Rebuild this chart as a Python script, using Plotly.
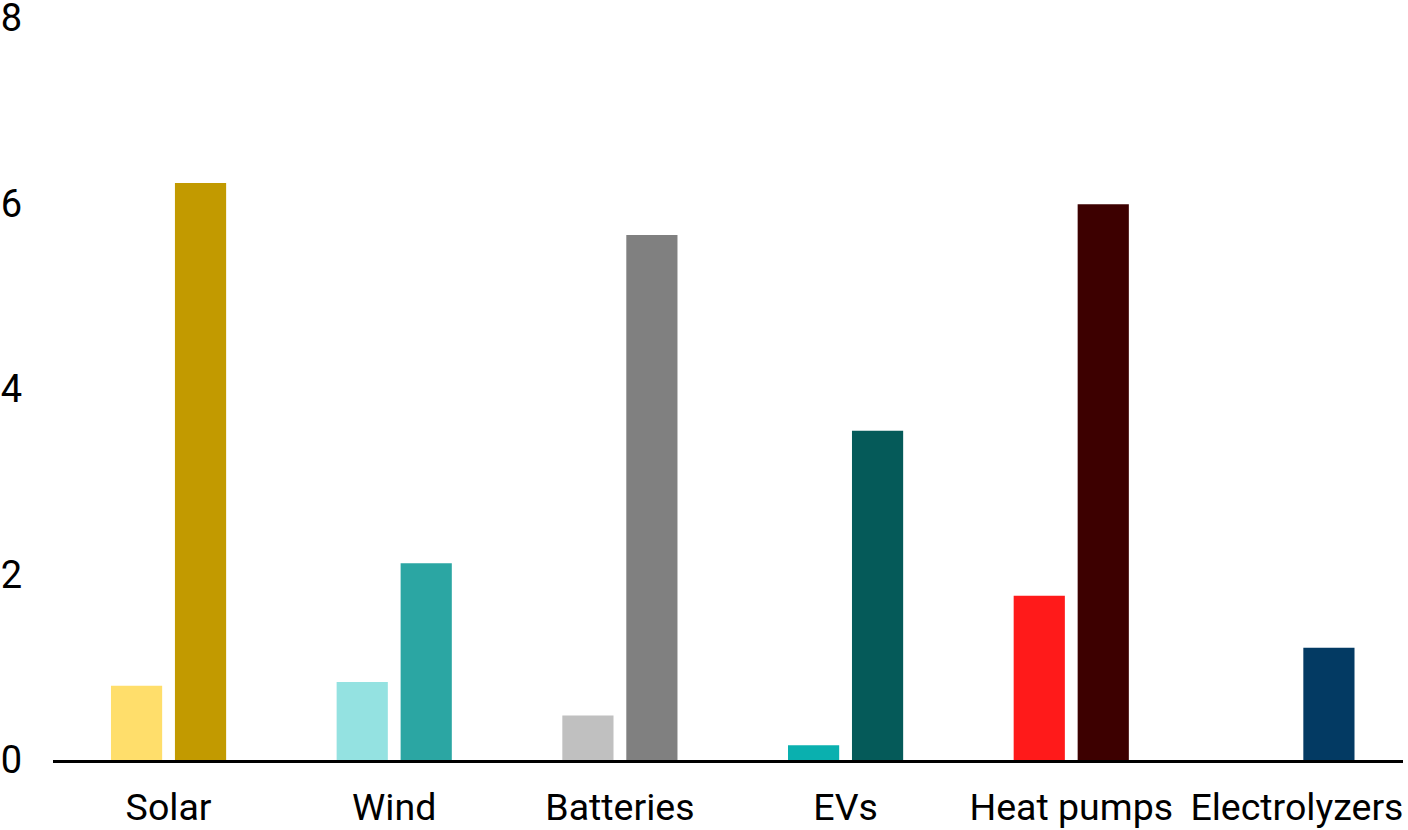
import plotly.graph_objects as go

categories = ["Solar", "Wind", "Batteries", "EVs", "Heat pumps", "Electrolyzers"]
series_a = [0.80, 0.84, 0.48, 0.16, 1.77, 0.0]
series_b = [6.22, 2.12, 5.66, 3.55, 5.99, 1.21]
colors_a = ["#FFDE6B", "#94E2E1", "#C0C0C0", "#0AB0AF", "#FF1A1A", "#3FA3C9"]
colors_b = ["#C29A00", "#2BA6A3", "#808080", "#055A59", "#3D0000", "#033A63"]
y_ticks = [0, 2, 4, 6, 8]

fig = go.Figure()
fig.add_trace(go.Bar(x=categories, y=series_a, marker=dict(color=colors_a, line_width=0)))
fig.add_trace(go.Bar(x=categories, y=series_b, marker=dict(color=colors_b, line_width=0)))

fig.update_layout(
    width=1408, height=830,
    margin=dict(l=53, r=5, t=16, b=70),
    paper_bgcolor="white", plot_bgcolor="white",
    showlegend=False,
    barmode="group", bargap=0.433, bargroupgap=0.2,
    font=dict(family="Roboto", size=37.5, color="black"),
)
fig.update_xaxes(
    range=[-0.512, 5.47], automargin=False,
    showline=True, linecolor="black", linewidth=3,
    showgrid=False, ticks="", ticklabelstandoff=12,
    ticklabeloverflow="allow",
)
fig.update_yaxes(
    range=[0, 8.02], tickvals=y_ticks, automargin=False,
    showgrid=False, zeroline=False, showline=False,
    ticks="", ticklabelstandoff=30, tickfont=dict(size=38),
    ticklabeloverflow="allow",
)

# drop the default body margin so the figure sits at the page's top-left corner
fig.write_html("out.html", config={"displayModeBar": False},
               post_script="document.body.style.margin='0';")
